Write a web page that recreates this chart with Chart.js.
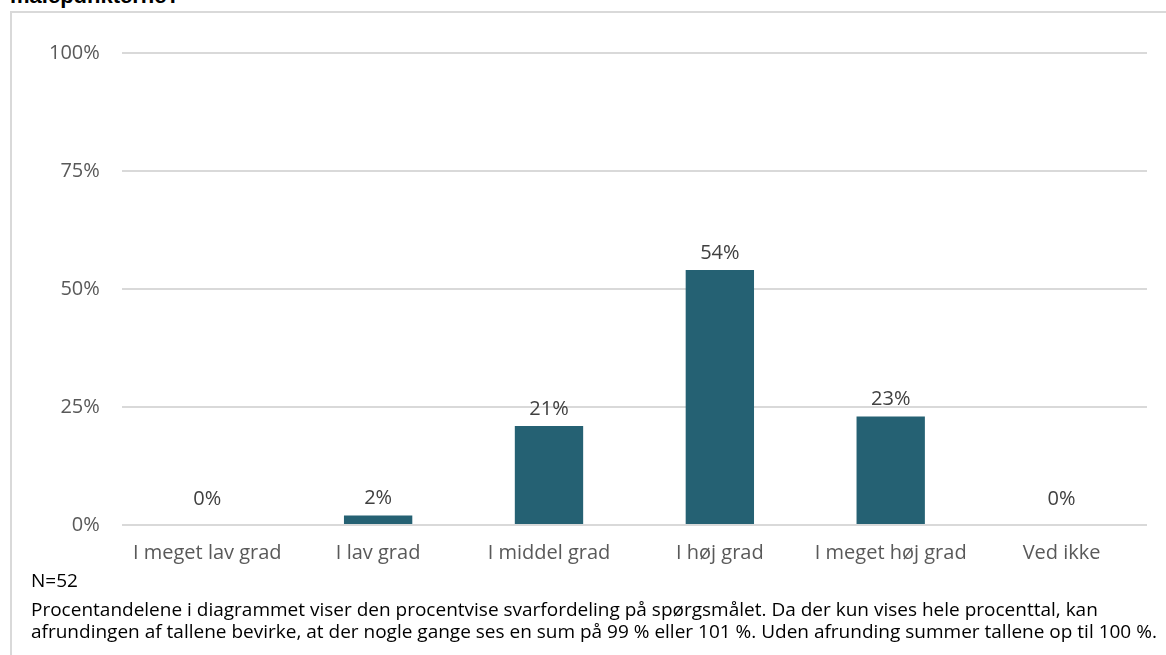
<!DOCTYPE html>
<html>
<head>
<meta charset="utf-8">
<script src="https://cdn.jsdelivr.net/npm/chart.js@4"></script>
<style>
  body { margin: 0; background: #fff; width: 1166px; height: 655px; overflow: hidden; position: relative; font-family: "Open Sans", sans-serif; }
  #title { position: absolute; left: 10px; top: -17px; font: bold 22px "Liberation Sans", Arial, sans-serif; color: #000; }
  #frame { position: absolute; left: 10px; top: 11px; width: 1170px; height: 660px; border: 2px solid #d9d9d9; box-sizing: border-box; }
  #wrap { position: absolute; left: 11px; top: 12px; width: 1155px; height: 577px; }
  #notes { position: absolute; left: 31px; top: 569px; font-size: 19px; line-height: 22px; color: #000; }
</style>
</head>
<body>
<div id="title">målepunkterne?</div>
<div id="frame"></div>
<div id="wrap"><canvas id="chart"></canvas></div>
<div id="notes">
  <div>N=52</div>
  <div style="margin-top:7px">Procentandelene i diagrammet viser den procentvise svarfordeling på spørgsmålet. Da der kun vises hele procenttal, kan</div>
  <div>afrundingen af tallene bevirke, at der nogle gange ses en sum på 99 % eller 101 %. Uden afrunding summer tallene op til 100 %.</div>
</div>
<script>
const categories = ["I meget lav grad", "I lav grad", "I middel grad", "I høj grad", "I meget høj grad", "Ved ikke"];
const shares = [0, 2, 21, 54, 23, 0];
const yTicks = [0, 25, 50, 75, 100];

// draw value labels above each bar (zero bars keep a small gap above the baseline)
const valueLabels = {
  id: "valueLabels",
  afterDatasetsDraw(chart) {
    const { ctx } = chart;
    const meta = chart.getDatasetMeta(0);
    ctx.save();
    ctx.font = '20px "Open Sans", sans-serif';
    ctx.fillStyle = "#404040";
    ctx.textAlign = "center";
    ctx.textBaseline = "bottom";
    meta.data.forEach((bar, i) => {
      const y = Math.min(bar.y - 7, bar.base - 16);
      ctx.fillText(shares[i] + "%", bar.x, y);
    });
    ctx.restore();
  }
};

new Chart(document.getElementById("chart"), {
  type: "bar",
  data: {
    labels: categories,
    datasets: [{
      data: shares,
      backgroundColor: "#256173",
      categoryPercentage: 1,
      barPercentage: 0.4
    }]
  },
  options: {
    responsive: true,
    maintainAspectRatio: false,
    animation: false,
    layout: { padding: { left: 16, right: 19, top: 41, bottom: 8 } },
    plugins: { legend: { display: false }, tooltip: { enabled: false } },
    scales: {
      y: {
        min: 0, max: 100,
        afterBuildTicks(axis) { axis.ticks = yTicks.map(v => ({ value: v })); },
        ticks: {
          callback: v => v + "%",
          color: "#595959",
          font: { family: "Open Sans", size: 20 },
          padding: 22
        },
        grid: { color: "#d9d9d9", lineWidth: 2, drawTicks: false },
        border: { display: false }
      },
      x: {
        ticks: {
          color: "#595959",
          font: { family: "Open Sans", size: 20 },
          padding: 16
        },
        grid: { display: false, drawTicks: false },
        border: { display: false }
      }
    }
  },
  plugins: [valueLabels]
});
</script>
</body>
</html>
